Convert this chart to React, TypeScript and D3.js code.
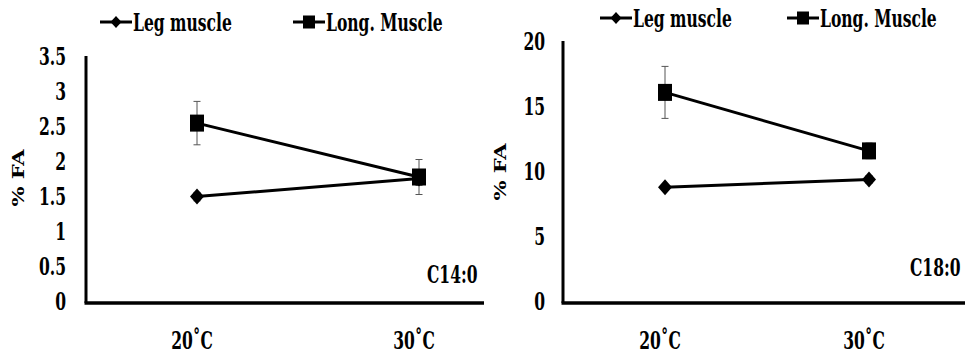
import React from "react";
import * as d3 from "d3";

// categories and series values
const categories = ["20˚C", "30˚C"];
const seriesNames = ["Leg muscle", "Long. Muscle"];

const c14Leg = [1.52, 1.78];
const c14LegErr = [0.06, 0.1];
const c14Long = [2.57, 1.8];
const c14LongErr = [0.31, 0.25];

const c18Leg = [8.9, 9.5];
const c18LegErr = [0.2, 0.3];
const c18Long = [16.2, 11.7];
const c18LongErr = [2.0, 0.6];

const c14Ticks = [0, 0.5, 1, 1.5, 2, 2.5, 3, 3.5];
const c18Ticks = [0, 5, 10, 15, 20];

const FONT = "'DejaVu Serif', serif";
const FS = 18;
const SX = 0.96;
const SY = 1.3; // the figure text looks stretched vertically

type PanelProps = {
  label: string;
  leg: number[];
  legErr: number[];
  long: number[];
  longErr: number[];
  ticks: number[];
  yMax: number;
  axisX: number;
  bandRight: number;
  clipRight: number;
  yTop: number;
  tickX: number;
  titleX: number;
  titleY: number;
  legendY: number;
  legendX: [number, number];
  labelX: number;
  labelY: number;
  id: string;
};

function Txt({ x, y, anchor = "start", rotate = false, children }: any) {
  const t = rotate
    ? `translate(${x},${y}) scale(0.9,1.3) rotate(-90)`
    : `translate(${x},${y}) scale(${SX},${SY})`;
  return (
    <text
      transform={t}
      textAnchor={anchor}
      style={{ fontFamily: FONT, fontSize: FS, fontWeight: 700, fontStretch: "condensed" }}
      fill="#000"
    >
      {children}
    </text>
  );
}

function Diamond({ cx, cy, w = 7, h = 8 }: any) {
  return <path d={`M${cx},${cy - h}L${cx + w},${cy}L${cx},${cy + h}L${cx - w},${cy}Z`} fill="#000" />;
}

function Square({ cx, cy, w = 7, h = 8.5 }: any) {
  return <rect x={cx - w} y={cy - h} width={w * 2} height={h * 2} fill="#000" />;
}

function Panel(p: PanelProps) {
  const bottom = 303;
  const x = d3.scaleBand<string>().domain(categories).range([p.axisX, p.bandRight]).padding(0);
  const y = d3.scaleLinear().domain([0, p.yMax]).range([bottom, p.yTop]);
  const cx = (c: string) => (x(c) as number) + x.bandwidth() / 2;
  const line = d3
    .line<number>()
    .x((_, i) => cx(categories[i]))
    .y((d) => y(d));

  const errBars = (vals: number[], errs: number[]) =>
    vals.map((v, i) => {
      const px = cx(categories[i]);
      return (
        <g key={i} stroke="#555" strokeWidth={1}>
          <line x1={px} x2={px} y1={y(v + errs[i])} y2={y(v - errs[i])} />
          <line x1={px - 3.5} x2={px + 3.5} y1={y(v + errs[i])} y2={y(v + errs[i])} />
          <line x1={px - 3.5} x2={px + 3.5} y1={y(v - errs[i])} y2={y(v - errs[i])} />
        </g>
      );
    });

  const [lx1, lx2] = p.legendX;

  return (
    <g>
      <defs>
        <clipPath id={p.id}>
          <rect x={0} y={0} width={p.clipRight} height={354} />
        </clipPath>
      </defs>
      <g clipPath={`url(#${p.id})`}>
        {/* legend */}
        <line x1={lx1} x2={lx1 + 32} y1={p.legendY} y2={p.legendY} stroke="#000" strokeWidth={3} />
        <Diamond cx={lx1 + 16} cy={p.legendY} w={5.5} h={6} />
        <Txt x={lx1 + 33} y={p.legendY + 9}>{seriesNames[0]}</Txt>
        <line x1={lx2} x2={lx2 + 32} y1={p.legendY} y2={p.legendY} stroke="#000" strokeWidth={3} />
        <Square cx={lx2 + 16} cy={p.legendY} w={6} h={6.5} />
        <Txt x={lx2 + 33} y={p.legendY + 9}>{seriesNames[1]}</Txt>

        {/* axes */}
        <line x1={p.axisX} x2={p.axisX} y1={y(p.yMax) - 2} y2={bottom} stroke="#000" strokeWidth={3} />
        <line x1={p.axisX - 1.5} x2={p.bandRight} y1={bottom} y2={bottom} stroke="#000" strokeWidth={3.5} />
        {p.ticks.map((t) => (
          <Txt key={t} x={p.tickX} y={y(t) + 7} anchor="end">
            {String(t)}
          </Txt>
        ))}
        {categories.map((c) => (
          <Txt key={c} x={cx(c) - 5} y={349} anchor="middle">
            {c}
          </Txt>
        ))}
        <Txt x={p.titleX} y={p.titleY} anchor="middle" rotate>
          % FA
        </Txt>
        <Txt x={p.labelX} y={p.labelY}>{p.label}</Txt>

        {/* series */}
        {errBars(p.long, p.longErr)}
        {errBars(p.leg, p.legErr)}
        <path d={line(p.leg) || ""} fill="none" stroke="#000" strokeWidth={3} />
        <path d={line(p.long) || ""} fill="none" stroke="#000" strokeWidth={3} />
        {p.leg.map((v, i) => (
          <Diamond key={i} cx={cx(categories[i])} cy={y(v)} />
        ))}
        {p.long.map((v, i) => (
          <Square key={i} cx={cx(categories[i])} cy={y(v)} />
        ))}
      </g>
    </g>
  );
}

export default function App() {
  return (
    <div style={{ position: "absolute", left: 0, top: 0, background: "#fff" }}>
      <svg width={965} height={354} style={{ display: "block" }}>
        <rect width={965} height={354} fill="#fff" />
        <Panel
          id="clipL"
          label="C14:0"
          leg={c14Leg}
          legErr={c14LegErr}
          long={c14Long}
          longErr={c14LongErr}
          ticks={c14Ticks}
          yMax={3.5}
          axisX={86}
          bandRight={530}
          clipRight={484}
          yTop={58}
          tickX={66}
          titleX={24}
          titleY={178}
          legendY={22}
          legendX={[100, 293]}
          labelX={427}
          labelY={283}
        />
        <Panel
          id="clipR"
          label="C18:0"
          leg={c18Leg}
          legErr={c18LegErr}
          long={c18Long}
          longErr={c18LongErr}
          ticks={c18Ticks}
          yMax={20}
          axisX={563}
          bandRight={971}
          clipRight={965}
          yTop={43}
          tickX={545}
          titleX={506}
          titleY={172}
          legendY={18}
          legendX={[600, 787]}
          labelX={910}
          labelY={276}
        />
      </svg>
    </div>
  );
}
